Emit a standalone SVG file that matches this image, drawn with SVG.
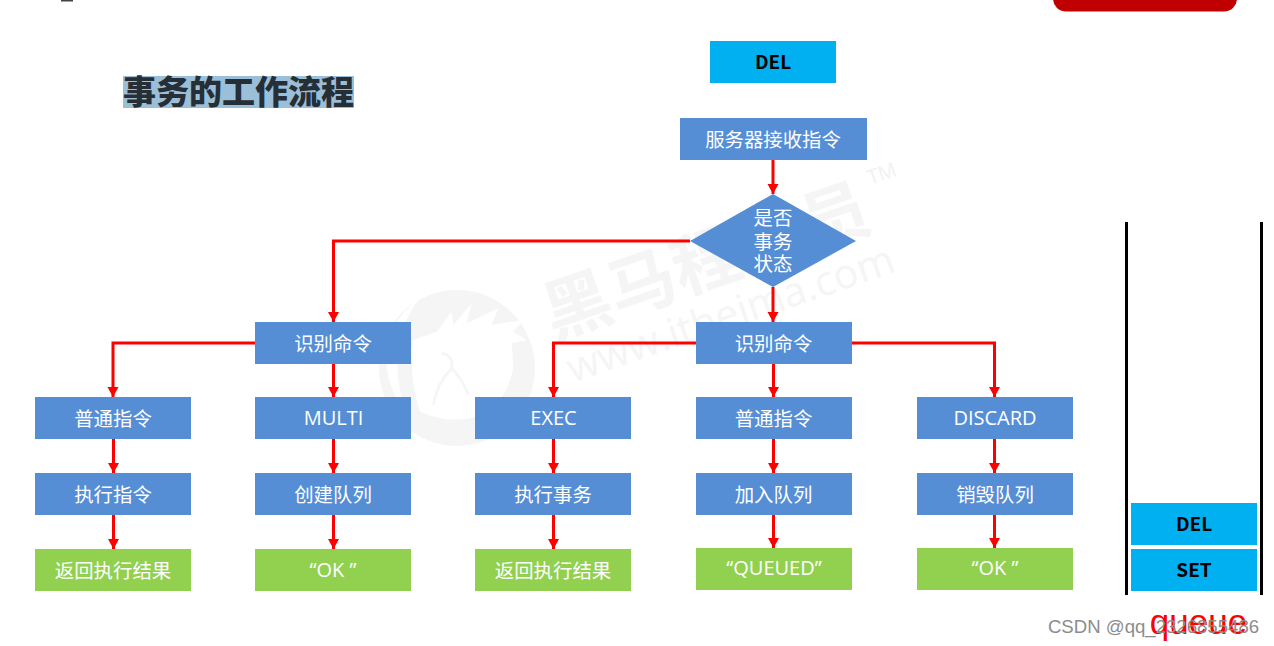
<svg xmlns="http://www.w3.org/2000/svg" width="1274" height="646" viewBox="0 0 1274 646">
<style>
text{font-family:"Noto Sans CJK SC","Open Sans",sans-serif;text-anchor:middle}
.b{fill:#558ed5}.g{fill:#92d050}.c{fill:#00b0f0}
.t{fill:#fff;font-size:19.400px}
.l{fill:#fff;font-size:20px;font-family:"Open Sans","Noto Sans CJK SC",sans-serif}
.k{fill:#000;font-size:19px;font-weight:700}
.e{fill:none;stroke:#f00;stroke-width:3}
</style>
<defs><marker id="a" markerUnits="userSpaceOnUse" markerWidth="12" markerHeight="12" refX="10" refY="5.500" orient="auto"><path d="M0 0L10 5.500L0 11z" fill="#f00"/></marker></defs>
<rect width="1274" height="646" fill="#fff"/>
<g id="watermark">
<circle cx="457" cy="368" r="78" fill="#f5f5f5"/>
<g transform="translate(370 280) scale(.3333)">
<path fill="#fff" d="M130 180L200 155L245 95L250 135L305 70L290 130L385 85L365 135L460 120L430 155L470 180L425 190L430 260Q420 340 350 400Q250 440 150 395Q115 290 130 180z"/>
<path fill="#fff" d="M150 55Q40 130 50 260Q60 340 105 385Q75 300 85 220Q95 120 150 55z"/>
<path fill="none" stroke="#f5f5f5" stroke-width="8" d="M215 220Q250 225 245 265Q280 300 295 345M245 265Q200 310 190 375"/>
</g>
<text fill="#f5f5f5" font-weight="700" font-size="68" transform="translate(714 284) rotate(-19)">黑马程序员</text>
<text fill="#f5f5f5" font-size="41" style="font-family:'Open Sans',sans-serif" transform="translate(735 327) rotate(-19)">www.itheima.com</text>
<text fill="#f1f1f1" font-size="20" style="font-family:'Open Sans',sans-serif" transform="translate(884 180) rotate(-19)">TM</text>
</g>
<rect id="top-bar" x="1053" y="-20" width="184" height="31.500" rx="13" fill="#c00000"/>
<rect id="top-mark" x="61" y="0" width="12" height="1.500" fill="#444"/>
<g id="title"><rect x="123" y="76" width="231" height="32" fill="#9bbfd9"/><text x="238.500" y="104" font-size="33" font-weight="900" fill="#262e36">事务的工作流程</text></g>
<g id="connectors">
<path class="e" marker-end="url(#a)" d="M773 160V194"/>
<path class="e" marker-end="url(#a)" d="M690 241H333.500V322"/>
<path class="e" marker-end="url(#a)" d="M773 287V322"/>
<path class="e" marker-end="url(#a)" d="M255 343H113V397"/>
<path class="e" marker-end="url(#a)" d="M333.500 364V397"/>
<path class="e" marker-end="url(#a)" d="M696 343H553.500V397"/>
<path class="e" marker-end="url(#a)" d="M773.500 364V397"/>
<path class="e" marker-end="url(#a)" d="M852 343H994.500V397"/>
<path class="e" marker-end="url(#a)" d="M113.500 439V473"/>
<path class="e" marker-end="url(#a)" d="M333.500 439V473"/>
<path class="e" marker-end="url(#a)" d="M553.500 439V473"/>
<path class="e" marker-end="url(#a)" d="M773.500 439V473"/>
<path class="e" marker-end="url(#a)" d="M994.500 439V473"/>
<path class="e" marker-end="url(#a)" d="M113.500 515V549"/>
<path class="e" marker-end="url(#a)" d="M333.500 515V549"/>
<path class="e" marker-end="url(#a)" d="M553.500 515V549"/>
<path class="e" marker-end="url(#a)" d="M773.500 515V548"/>
<path class="e" marker-end="url(#a)" d="M994.500 515V548"/>
</g>
<g id="n-del"><rect class="c" x="710" y="41" width="126" height="42"/><text class="k" x="773" y="69">DEL</text></g>
<g id="n-server"><rect class="b" x="680" y="118" width="187" height="42"/><text class="t" x="773" y="146.500">服务器接收指令</text></g>
<g id="n-decision"><path class="b" d="M773 194L856 241L773 287L690 241z"/><text class="t" x="773" y="225">是否</text><text class="t" x="773" y="249">事务</text><text class="t" x="773" y="271">状态</text></g>
<g id="n-id-l"><rect class="b" x="255" y="322" width="156" height="42"/><text class="t" x="333" y="350.500">识别命令</text></g>
<g id="n-id-r"><rect class="b" x="696" y="322" width="156" height="42"/><text class="t" x="773.500" y="350.500">识别命令</text></g>
<g id="n-r2a"><rect class="b" x="35" y="397" width="156" height="42"/><text class="t" x="113" y="425.500">普通指令</text></g>
<g id="n-r2b"><rect class="b" x="255" y="397" width="156" height="42"/><text class="l" x="333.500" y="425">MULTI</text></g>
<g id="n-r2c"><rect class="b" x="475" y="397" width="156" height="42"/><text class="l" x="553.500" y="425">EXEC</text></g>
<g id="n-r2d"><rect class="b" x="696" y="397" width="156" height="42"/><text class="t" x="773.500" y="425.500">普通指令</text></g>
<g id="n-r2e"><rect class="b" x="917" y="397" width="156" height="42"/><text class="l" x="995" y="425">DISCARD</text></g>
<g id="n-r3a"><rect class="b" x="35" y="473" width="156" height="42"/><text class="t" x="113" y="501.500">执行指令</text></g>
<g id="n-r3b"><rect class="b" x="255" y="473" width="156" height="42"/><text class="t" x="333" y="501.500">创建队列</text></g>
<g id="n-r3c"><rect class="b" x="475" y="473" width="156" height="42"/><text class="t" x="553" y="501.500">执行事务</text></g>
<g id="n-r3d"><rect class="b" x="696" y="473" width="156" height="42"/><text class="t" x="773.500" y="501.500">加入队列</text></g>
<g id="n-r3e"><rect class="b" x="917" y="473" width="156" height="42"/><text class="t" x="995" y="501.500">销毁队列</text></g>
<g id="n-r4a"><rect class="g" x="35" y="549" width="156" height="42"/><text class="t" x="113" y="577.500">返回执行结果</text></g>
<g id="n-r4b"><rect class="g" x="255" y="549" width="156" height="42"/><text class="l" x="333" y="577">“OK ”</text></g>
<g id="n-r4c"><rect class="g" x="475" y="549" width="156" height="42"/><text class="t" x="553" y="577.500">返回执行结果</text></g>
<g id="n-r4d"><rect class="g" x="696" y="548" width="156" height="42"/><text class="l" x="774" y="575">“QUEUED”</text></g>
<g id="n-r4e"><rect class="g" x="917" y="548" width="156" height="42"/><text class="l" x="995" y="575">“OK ”</text></g>
<g id="queue">
<path d="M1126.500 222V595M1261.500 222V595" stroke="#000" stroke-width="3" fill="none"/>
<rect class="c" x="1131" y="503" width="126" height="42"/><text class="k" x="1194" y="531">DEL</text>
<rect class="c" x="1131" y="549" width="126" height="42"/><text class="k" x="1194" y="577">SET</text>
</g>
<text x="1198.500" y="634" fill="#f00" font-size="35" style="font-family:'Liberation Sans',sans-serif">queue</text>
<text x="1153.500" y="633" fill="#8c8c8c" font-size="18.600" style="font-family:'Liberation Sans',sans-serif">CSDN @qq_2326855486</text>
</svg>
